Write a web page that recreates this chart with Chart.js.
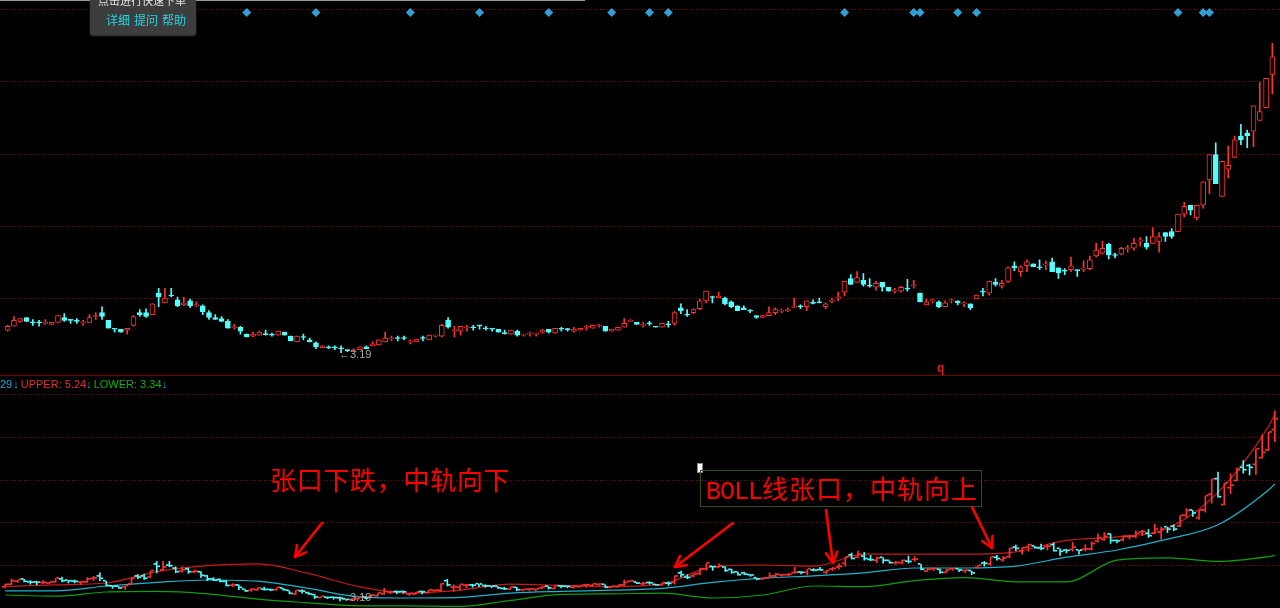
<!DOCTYPE html>
<html><head><meta charset="utf-8">
<script src="https://cdn.jsdelivr.net/npm/chart.js@4.4.1/dist/chart.umd.min.js"></script>
<style>
html,body{margin:0;padding:0;background:#000;}
#wrap{position:relative;width:1280px;height:608px;overflow:hidden;background:#000;font-family:"Liberation Sans",Arial,sans-serif;}
canvas{position:absolute;left:0;display:block;}
#c1{top:0;}
#c2{top:376px;}
.abs{position:absolute;white-space:nowrap;}
</style></head><body>
<div id="wrap">
<canvas id="c1" width="1280" height="375"></canvas>
<div class="abs" style="left:0;top:375px;width:1280px;height:1px;background:#7a0000"></div>
<canvas id="c2" width="1280" height="232"></canvas>

<div class="abs" style="left:0;top:0;width:585px;height:1px;background:#9a9a9a"></div>
<div class="abs" style="left:90px;top:-5px;width:106px;height:40px;background:#3d3d3d;border-radius:3px;box-shadow:0 1px 2px rgba(120,120,120,.5)"></div>
<div class="abs" style="left:98px;top:-7px;font-size:11px;line-height:14px;font-family:'Noto Sans CJK SC';color:#e4e4e4">点击进行快速下单</div>
<div class="abs" style="left:106px;top:12px;font-size:12px;line-height:16px;font-family:'Noto Sans CJK SC';color:#22d6e6">详细<span style="margin-left:4px">提问</span><span style="margin-left:4px">帮助</span></div>

<div class="abs" style="left:339px;top:348px;font-size:11px;line-height:13px;color:#a8a8a8">←3.19</div>
<div class="abs" style="left:339px;top:591px;font-size:11px;line-height:13px;color:#a8a8a8">←3.19</div>
<div class="abs" style="left:937px;top:361px;font-size:12px;line-height:14px;color:#e02020;font-weight:bold">q</div>

<div class="abs" style="left:0;top:377px;font-size:11px;line-height:14px">
<span style="color:#1ea8d6">29</span><span style="color:#1ea8d6;margin-left:1px">↓</span><span style="color:#e03030;margin-left:2px">UPPER: 5.24</span><span style="color:#1ea8d6">↓</span><span style="color:#10b010;margin-left:2px">LOWER: 3.34</span><span style="color:#1ea8d6">↓</span>
</div>

<div class="abs" style="left:270px;top:466px;font-size:26px;line-height:26px;font-family:'Noto Sans CJK SC';color:#ff0000;letter-spacing:0.7px">张口下跌，中轨向下</div>
<div class="abs" style="left:697px;top:463px;width:4px;height:8px;background:#fff;border:1px solid #888"></div>
<div class="abs" style="left:700px;top:470px;width:280px;height:35px;border:1px solid #2f4f1f"></div>
<div class="abs" style="left:706px;top:474px;font-size:26px;line-height:28px;font-family:'Noto Sans CJK SC';color:#ff0000"><span style="font-family:'Liberation Mono';font-size:25px;letter-spacing:-1px">BOLL</span><span style="letter-spacing:1px">线张口，中轨向上</span></div>

<svg id="arrows" class="abs" style="left:0;top:0" width="1280" height="608"></svg>
</div>
<script>
// ---------- data ----------
const openP = [3.42,3.46,3.51,3.55,3.50,3.50,3.49,3.48,3.50,3.55,3.53,3.515,3.495,3.50,3.56,3.60,3.52,3.435,3.43,3.42,
3.47,3.60,3.60,3.58,3.80,3.70,3.78,3.73,3.68,3.72,3.67,3.67,3.60,3.55,3.54,3.51,3.445,3.45,3.38,3.36,
3.37,3.38,3.375,3.37,3.40,3.36,3.30,3.35,3.32,3.29,3.24,3.245,3.245,3.235,3.22,3.20,3.22,3.25,3.26,3.27,
3.30,3.33,3.34,3.34,3.30,3.30,3.34,3.32,3.36,3.36,3.52,3.415,3.41,3.445,3.45,3.47,3.44,3.435,3.43,3.39,
3.38,3.41,3.37,3.38,3.38,3.40,3.43,3.39,3.435,3.43,3.41,3.42,3.45,3.44,3.46,3.46,3.41,3.42,3.45,3.51,
3.50,3.47,3.49,3.46,3.45,3.48,3.49,3.65,3.58,3.60,3.64,3.72,3.76,3.75,3.75,3.71,3.67,3.65,3.62,3.57,
3.55,3.57,3.60,3.615,3.62,3.655,3.665,3.66,3.70,3.705,3.66,3.715,3.75,3.81,3.95,3.91,3.93,3.875,3.86,3.91,
3.86,3.82,3.82,3.845,3.875,3.80,3.68,3.72,3.71,3.66,3.72,3.72,3.69,3.69,3.74,3.815,3.80,3.91,3.87,3.92,
4.08,4.02,4.08,4.10,4.065,4.09,4.12,4.06,4.03,4.04,4.035,4.045,4.05,4.18,4.21,4.30,4.19,4.20,4.255,4.26,
4.335,4.31,4.31,4.33,4.42,4.43,4.43,4.61,4.70,4.57,4.70,4.96,5.22,4.79,5.07,5.19,5.41,5.44,5.46,5.57,
5.70,6.04];
const highP = [3.47,3.56,3.54,3.55,3.53,3.52,3.53,3.50,3.57,3.59,3.53,3.54,3.52,3.58,3.60,3.66,3.52,3.435,3.43,3.44,
3.57,3.63,3.64,3.69,3.85,3.85,3.85,3.76,3.76,3.74,3.71,3.68,3.62,3.58,3.56,3.53,3.48,3.46,3.38,3.40,
3.41,3.42,3.39,3.41,3.40,3.36,3.36,3.38,3.34,3.30,3.26,3.26,3.26,3.26,3.22,3.23,3.25,3.26,3.30,3.32,
3.40,3.36,3.36,3.36,3.32,3.33,3.36,3.37,3.37,3.48,3.55,3.46,3.46,3.47,3.47,3.47,3.46,3.435,3.43,3.42,
3.42,3.42,3.38,3.40,3.39,3.43,3.43,3.44,3.45,3.44,3.45,3.44,3.47,3.47,3.48,3.46,3.43,3.45,3.54,3.53,
3.50,3.50,3.51,3.46,3.49,3.51,3.61,3.69,3.63,3.64,3.74,3.82,3.77,3.81,3.76,3.72,3.67,3.67,3.63,3.57,
3.57,3.66,3.65,3.64,3.65,3.75,3.68,3.72,3.73,3.75,3.70,3.75,3.81,3.92,3.99,4.02,4.00,3.95,3.92,3.91,
3.86,3.85,3.87,3.94,3.93,3.80,3.74,3.74,3.72,3.72,3.74,3.72,3.71,3.69,3.78,3.85,3.92,3.95,3.93,4.07,
4.12,4.08,4.14,4.10,4.14,4.13,4.16,4.06,4.05,4.17,4.035,4.13,4.18,4.31,4.33,4.31,4.21,4.27,4.29,4.36,
4.37,4.38,4.47,4.42,4.42,4.46,4.61,4.73,4.70,4.70,4.94,5.22,5.34,5.15,5.31,5.41,5.53,5.47,5.72,5.96,
6.00,6.36];
const lowP = [3.41,3.46,3.50,3.51,3.47,3.46,3.48,3.48,3.50,3.51,3.49,3.49,3.47,3.50,3.53,3.53,3.44,3.40,3.40,3.38,
3.46,3.56,3.55,3.58,3.66,3.70,3.76,3.66,3.67,3.65,3.66,3.58,3.53,3.53,3.51,3.44,3.43,3.38,3.35,3.35,
3.37,3.37,3.36,3.37,3.37,3.31,3.30,3.32,3.30,3.23,3.24,3.23,3.22,3.19,3.20,3.20,3.22,3.23,3.26,3.27,
3.30,3.31,3.31,3.32,3.28,3.30,3.31,3.32,3.35,3.35,3.44,3.35,3.37,3.41,3.42,3.43,3.42,3.41,3.40,3.38,
3.38,3.36,3.36,3.36,3.36,3.39,3.39,3.39,3.41,3.41,3.40,3.42,3.42,3.44,3.45,3.41,3.41,3.42,3.45,3.51,
3.48,3.45,3.47,3.45,3.45,3.45,3.47,3.59,3.56,3.59,3.63,3.70,3.70,3.75,3.68,3.65,3.62,3.63,3.60,3.54,
3.55,3.57,3.58,3.60,3.61,3.65,3.64,3.62,3.69,3.70,3.64,3.70,3.72,3.77,3.89,3.91,3.87,3.86,3.83,3.82,
3.82,3.80,3.81,3.82,3.85,3.71,3.68,3.70,3.65,3.66,3.70,3.68,3.66,3.63,3.74,3.77,3.78,3.87,3.85,3.91,
4.03,3.97,4.02,4.07,4.04,4.04,4.02,3.95,3.99,4.02,3.97,4.02,4.04,4.17,4.20,4.15,4.16,4.19,4.22,4.24,
4.28,4.25,4.31,4.22,4.33,4.36,4.43,4.58,4.60,4.55,4.67,4.82,4.92,4.79,4.98,5.19,5.32,5.29,5.30,5.57,
5.70,5.84];
const closeP = [3.46,3.52,3.54,3.51,3.495,3.495,3.495,3.50,3.57,3.52,3.52,3.51,3.50,3.55,3.565,3.56,3.44,3.43,3.40,3.44,
3.56,3.58,3.56,3.69,3.76,3.75,3.77,3.67,3.70,3.67,3.675,3.61,3.55,3.53,3.51,3.44,3.45,3.41,3.35,3.38,
3.40,3.375,3.37,3.41,3.37,3.31,3.36,3.345,3.30,3.25,3.26,3.24,3.24,3.23,3.21,3.22,3.25,3.23,3.28,3.32,
3.34,3.335,3.335,3.335,3.305,3.33,3.335,3.37,3.365,3.47,3.45,3.42,3.46,3.45,3.445,3.465,3.435,3.43,3.40,3.385,
3.42,3.37,3.375,3.385,3.385,3.42,3.40,3.44,3.43,3.425,3.43,3.44,3.455,3.47,3.465,3.41,3.43,3.45,3.49,3.52,
3.48,3.475,3.485,3.45,3.49,3.475,3.60,3.62,3.575,3.63,3.72,3.82,3.755,3.77,3.69,3.66,3.62,3.63,3.615,3.55,
3.57,3.60,3.63,3.62,3.625,3.66,3.66,3.72,3.695,3.70,3.69,3.725,3.76,3.92,3.89,3.96,3.89,3.87,3.90,3.86,
3.82,3.825,3.86,3.84,3.88,3.71,3.71,3.725,3.66,3.70,3.725,3.70,3.695,3.65,3.78,3.81,3.92,3.89,3.90,4.06,
4.06,4.07,4.12,4.07,4.06,4.095,4.02,4.01,4.025,4.08,4.03,4.05,4.14,4.24,4.26,4.19,4.185,4.26,4.26,4.31,
4.34,4.27,4.38,4.38,4.38,4.38,4.61,4.69,4.65,4.70,4.94,5.22,4.92,5.15,5.11,5.37,5.37,5.41,5.72,5.66,
6.00,6.22];

// BOLL bands, sampled at these bar indexes
const bollIdx = [0,8,16,24,32,40,48,56,64,72,80,88,96,104,112,120,128,136,144,152,160,168,176,184,192,200,201];
const bollUpper = [3.43,3.46,3.49,3.68,3.78,3.81,3.65,3.43,3.32,3.37,3.47,3.45,3.43,3.47,3.76,3.79,3.77,3.97,3.97,3.97,4.01,4.20,4.26,4.40,5.00,6.10,6.30];
const bollMid   = [3.36,3.36,3.44,3.50,3.54,3.52,3.40,3.26,3.24,3.25,3.32,3.35,3.37,3.40,3.50,3.57,3.61,3.66,3.74,3.74,3.77,3.92,4.04,4.22,4.46,5.04,5.14];
const bollLower = [3.29,3.27,3.34,3.35,3.31,3.22,3.16,3.11,3.11,3.10,3.20,3.30,3.31,3.32,3.24,3.29,3.44,3.43,3.53,3.58,3.51,3.51,3.87,3.91,3.85,3.93,3.95];

// signal markers (bar indexes)
const signalIdx = [38,49,64,75,86,96,102,105,133,144,145,151,154,186,190,191];

// grid levels
const topGrid = [6.71,5.97,5.23,4.49,3.75];
const botGrid = [6.635,5.923,5.213,4.502,3.79];

// ---------- chart ----------
const labels = openP.map((_, i) => String(i + 1));
const UP = '#ff3232', DOWN = '#52ffff';
const isUp = openP.map((o, i) => closeP[i] >= o);
const candleCol = isUp.map(u => u ? UP : DOWN);

const gridPlugin = {
  id: 'dotgrid',
  beforeDatasetsDraw(chart, args, opts) {
    const {ctx, scales} = chart;
    ctx.save();
    ctx.strokeStyle = opts.color; ctx.lineWidth = 1; ctx.setLineDash([1, 2]);
    for (const v of opts.values) {
      const y = Math.round(scales.y.getPixelForValue(v)) + 0.5;
      ctx.beginPath(); ctx.moveTo(0, y); ctx.lineTo(chart.width, y); ctx.stroke();
    }
    ctx.restore();
  }
};

const baseOpts = (ymin, ymax, grid) => ({
  responsive: false, animation: false, devicePixelRatio: 1,
  layout: {padding: {left: 2, right: 2, top: 0, bottom: 0}},
  plugins: {legend: {display: false}, tooltip: {enabled: false}, dotgrid: {values: grid, color: '#7a0a0a'}},
  scales: {
    x: {type: 'category', display: false, offset: true, grid: {display: false}},
    y: {display: false, min: ymin, max: ymax}
  }
});

const SIGNAL_LEVEL = 6.674;
new Chart(document.getElementById('c1'), {
  type: 'bar',
  data: {
    labels,
    datasets: [
      { data: openP.map((o, i) => [o, closeP[i]]), backgroundColor: isUp.map(u => u ? '#000' : DOWN),
        borderColor: candleCol, borderWidth: 1, borderSkipped: false, barThickness: 5, grouped: false, minBarLength: 1 },
      { data: lowP.map((l, i) => [l, highP[i]]), backgroundColor: candleCol, barThickness: 1, grouped: false, minBarLength: 1 },
      { type: 'line', showLine: false, data: signalIdx.map(i => ({x: labels[i], y: SIGNAL_LEVEL})),
        pointStyle: 'rectRot', pointRadius: 4.5, pointBackgroundColor: '#2f9fd4', pointBorderWidth: 0 }
    ]
  },
  options: baseOpts(3.007, 6.757, topGrid),
  plugins: [gridPlugin]
});

const bollData = arr => bollIdx.map((k, j) => ({x: labels[k], y: arr[j]}));
const lineDs = (arr, col) => ({type: 'line', data: bollData(arr), borderColor: col, borderWidth: 1.2,
  pointRadius: 0, cubicInterpolationMode: 'monotone', fill: false});
new Chart(document.getElementById('c2'), {
  type: 'bar',
  data: {
    labels,
    datasets: [
      { data: openP.map(o => [o, o]), backgroundColor: candleCol, barThickness: 2, minBarLength: 1 },
      { data: lowP.map((l, i) => [l, highP[i]]), backgroundColor: candleCol, barThickness: 1, minBarLength: 1 },
      { data: closeP.map(c => [c, c]), backgroundColor: candleCol, barThickness: 2, minBarLength: 1 },
      lineDs(bollUpper, '#c41c1c'),
      lineDs(bollMid, '#1ab4cc'),
      lineDs(bollLower, '#0ca00c')
    ]
  },
  options: baseOpts(3.0733, 6.94, botGrid),
  plugins: [gridPlugin]
});

// ---------- annotation arrows ----------
const svg = document.getElementById('arrows');
const NS = 'http://www.w3.org/2000/svg';
function arrow(x1, y1, x2, y2) {
  const a = Math.atan2(y2 - y1, x2 - x1), L = 12, h = 0.5;
  const pts = [[x2 - L * Math.cos(a - h), y2 - L * Math.sin(a - h)], [x2, y2], [x2 - L * Math.cos(a + h), y2 - L * Math.sin(a + h)]];
  const mk = (d) => { const p = document.createElementNS(NS, 'path'); p.setAttribute('d', d);
    p.setAttribute('stroke', '#ff0000'); p.setAttribute('stroke-width', '2.6'); p.setAttribute('fill', 'none');
    p.setAttribute('stroke-linecap', 'round'); p.setAttribute('stroke-linejoin', 'round'); svg.appendChild(p); };
  mk(`M${x1} ${y1} L${x2} ${y2}`);
  mk(`M${pts[0][0]} ${pts[0][1]} L${x2} ${y2} L${pts[2][0]} ${pts[2][1]}`);
}
arrow(322, 523, 295, 557);
arrow(733, 523, 675, 567);
arrow(826, 510, 833, 563);
arrow(972, 507, 992, 548);
</script>
</body></html>
